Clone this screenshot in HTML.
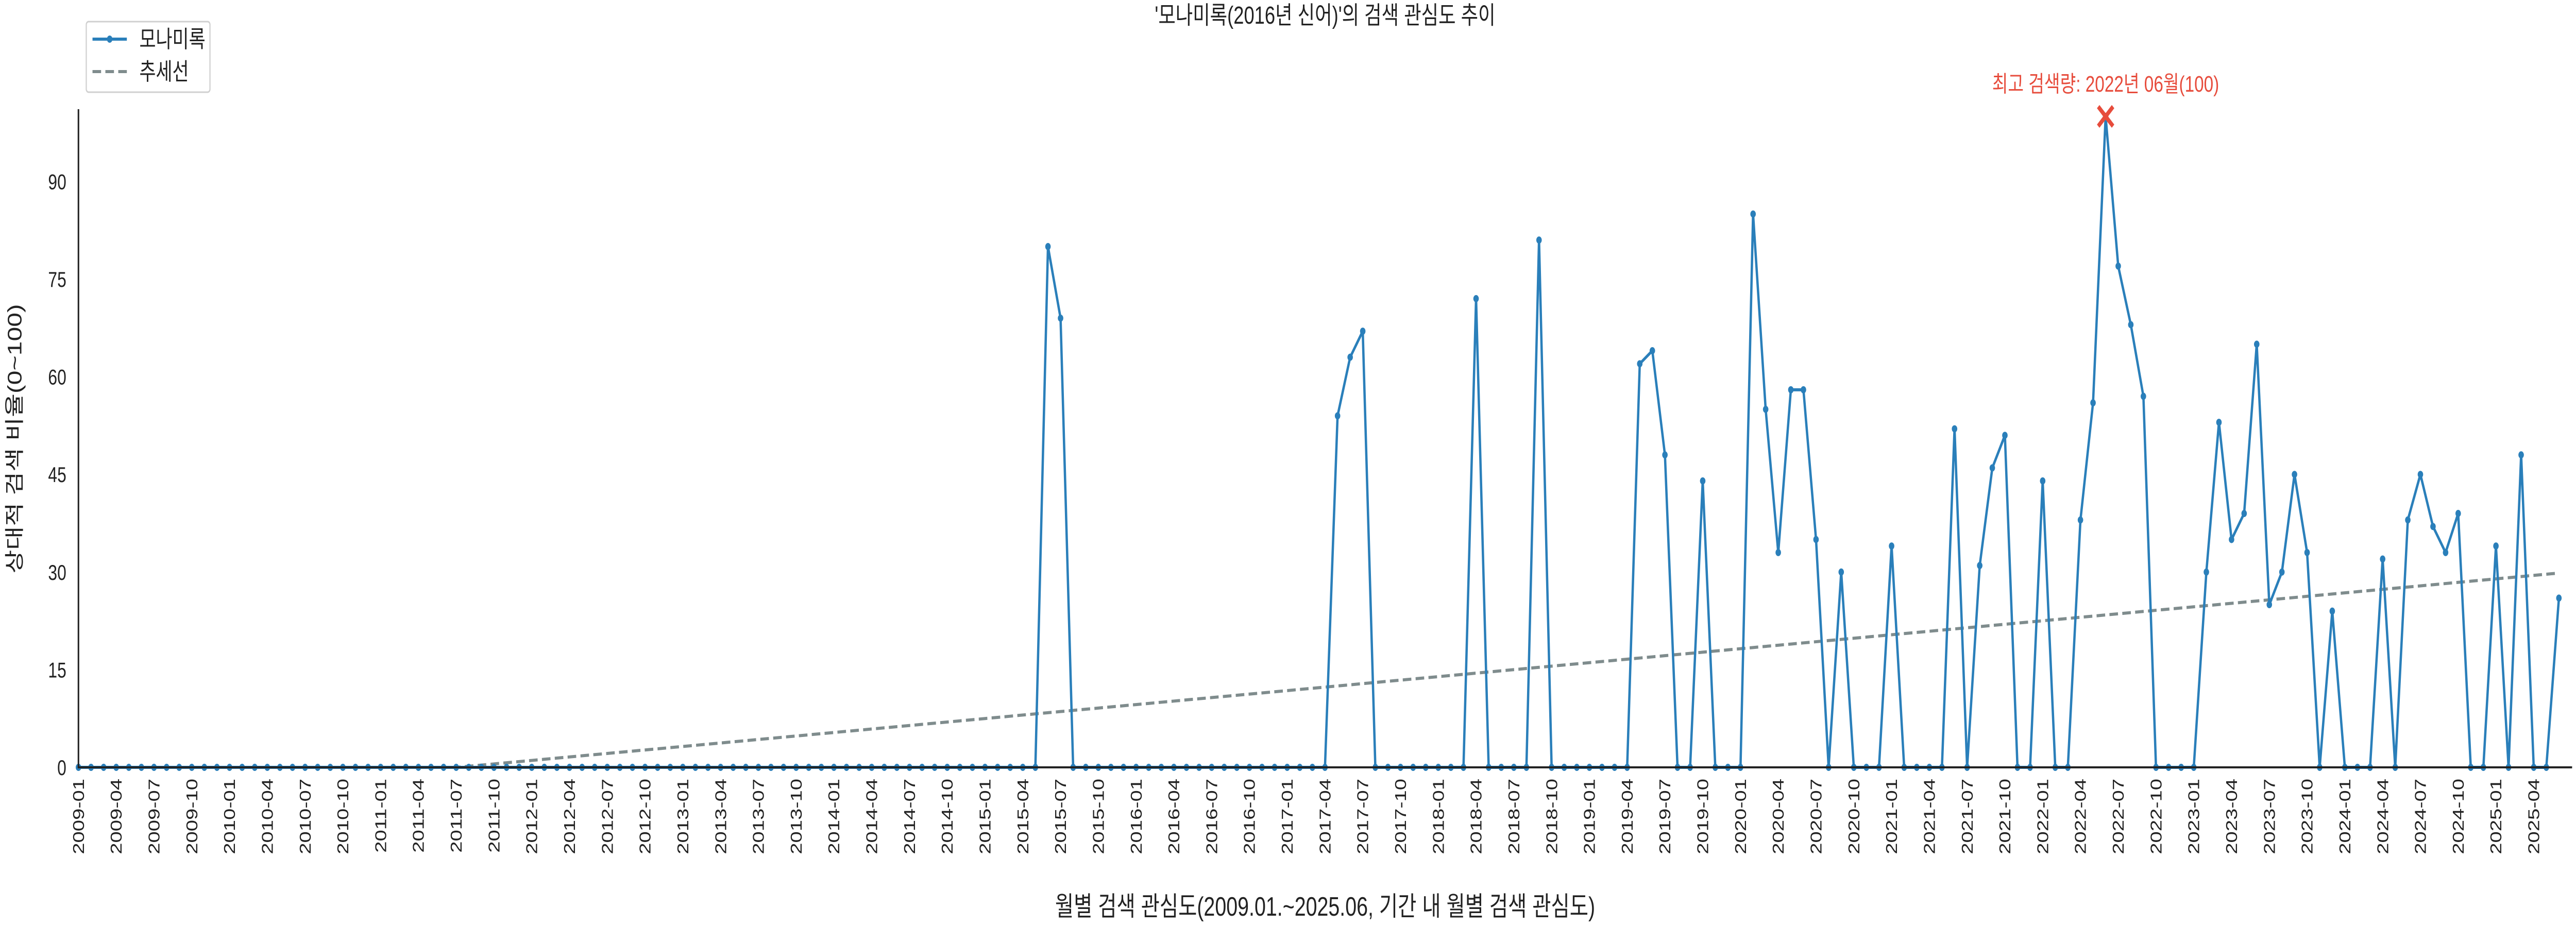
<!DOCTYPE html>
<html><head><meta charset="utf-8"><style>
html,body{margin:0;padding:0;background:#fff;width:100%;height:100%;overflow:hidden;}
svg{display:block;position:fixed;left:0;top:0;width:100vw;height:100vh;font-family:"Liberation Sans","Noto Sans CJK KR",sans-serif;}
</style></head><body>
<svg id="chart" width="6600" height="1800" viewBox="0 0 6600 1800" preserveAspectRatio="none">
<text x="3395" y="46" text-anchor="middle" font-size="48" fill="#222">'모나미록(2016년 신어)'의 검색 관심도 추이</text>
<text x="3395" y="1778" text-anchor="middle" font-size="52" fill="#222">월별 검색 관심도(2009.01.~2025.06, 기간 내 월별 검색 관심도)</text>
<text transform="translate(55,852) rotate(-90)" text-anchor="middle" font-size="50" fill="#222">상대적 검색 비율(0~100)</text>
<g id="grid"></g>
<g id="marks"></g>
<line x1="201" y1="212" x2="201" y2="1490" stroke="#222" stroke-width="4"/>
<line x1="199" y1="1490" x2="6590" y2="1490" stroke="#222" stroke-width="4"/>
<g>
<rect x="221" y="42" width="317" height="137" rx="6" fill="#fff" stroke="#d0d0d0" stroke-width="3"/>
<g>
<line x1="237" y1="76" x2="325" y2="76" stroke="#2a7fba" stroke-width="6"/>
<circle cx="281" cy="76" r="7" fill="#2a7fba"/>
<text x="357" y="92" font-size="46" fill="#222">모나미록</text></g>
<g>
<line x1="237" y1="139" x2="325" y2="139" stroke="#7f8c8d" stroke-width="6" stroke-dasharray="22,11"/>
<text x="357" y="155" font-size="46" fill="#222">추세선</text></g>
</g>
</svg>
<script>
const months = [];
for (let y = 2009; y <= 2025; y++) for (let m = 1; m <= 12; m++) { if (y === 2025 && m > 6) break; months.push(y + '-' + String(m).padStart(2, '0')); }
const values = [
0,0,0,0,0,0,0,0,0,0,0,0, 0,0,0,0,0,0,0,0,0,0,0,0,
0,0,0,0,0,0,0,0,0,0,0,0, 0,0,0,0,0,0,0,0,0,0,0,0,
0,0,0,0,0,0,0,0,0,0,0,0, 0,0,0,0,0,0,0,0,0,0,0,0,
0,0,0,0,0,80,69,0,0,0,0,0, 0,0,0,0,0,0,0,0,0,0,0,0,
0,0,0,0,54,63,67,0,0,0,0,0, 0,0,0,72,0,0,0,0,81,0,0,0,
0,0,0,0,62,64,48,0,0,44,0,0, 0,85,55,33,58,58,35,0,30,0,0,0,
34,0,0,0,0,52,0,31,46,51,0,0, 44,0,0,38,56,100,77,68,57,0,0,0,
0,30,53,35,39,65,25,30,45,33,0,24, 0,0,0,32,0,38,45,37,33,39,0,0,
34,0,48,0,0,26];
const yTicks = [0,15,30,45,60,75,90];
const peakLabel = '최고 검색량: 2022년 06월(100)';

const NS = 'http://www.w3.org/2000/svg';
const X0 = 201, DX = 32.26, Y0 = 1490, DY = 12.64;
const xs = i => X0 + i * DX;
const ys = v => Y0 - v * DY;
const grid = document.getElementById('grid');
const marks = document.getElementById('marks');
function mk(tag, attrs, parent) { const e = document.createElementNS(NS, tag); for (const k in attrs) e.setAttribute(k, attrs[k]); parent.appendChild(e); return e; }

yTicks.forEach(t => {
  const tx = mk('text', {x: 170, y: ys(t) + 15, 'text-anchor': 'end', 'font-size': 42, fill: '#222'}, grid);
  tx.textContent = t;
  
  
});
months.forEach((m, i) => {
  if (i % 3 !== 0) return;
  const tx = mk('text', {transform: 'translate(' + (xs(i) + 14) + ',1512) rotate(-90)', 'text-anchor': 'end', 'font-size': 40, fill: '#222'}, grid);
  tx.textContent = m;
  
  
});

const n = values.length;
let sx = 0, sy = 0, sxy = 0, sxx = 0;
values.forEach((v, i) => { sx += i; sy += v; sxy += i * v; sxx += i * i; });
const slope = (n * sxy - sx * sy) / (n * sxx - sx * sx);
const icpt = (sy - slope * sx) / n;
const trendPts = values.map((v, i) => xs(i) + ',' + ys(Math.max(0, icpt + slope * i))).join(' ');
const trend = mk('polyline', {points: trendPts, fill: 'none', stroke: '#7f8c8d', 'stroke-width': 6, 'stroke-dasharray': '22,11'}, marks);



const pts = values.map((v, i) => xs(i) + ',' + ys(v)).join(' ');
const line = mk('polyline', {points: pts, fill: 'none', stroke: '#2a7fba', 'stroke-width': 6, 'stroke-linejoin': 'round'}, marks);


values.forEach((v, i) => {
  const c = mk('circle', {cx: xs(i), cy: ys(v), r: 7, fill: '#2a7fba'}, marks);
  
  
});

let pi = 0; values.forEach((v, i) => { if (v > values[pi]) pi = i; });
const px = xs(pi), py = ys(values[pi]);
const xm = mk('path', {d: 'M' + (px - 19) + ',' + (py - 19) + 'L' + (px + 19) + ',' + (py + 19) + 'M' + (px + 19) + ',' + (py - 19) + 'L' + (px - 19) + ',' + (py + 19), stroke: '#e74c3c', 'stroke-width': 9, fill: 'none'}, marks);


const pl = mk('text', {x: px, y: 178, 'text-anchor': 'middle', 'font-size': 44, fill: '#e74c3c'}, marks);
pl.textContent = peakLabel;


</script>
</body></html>
